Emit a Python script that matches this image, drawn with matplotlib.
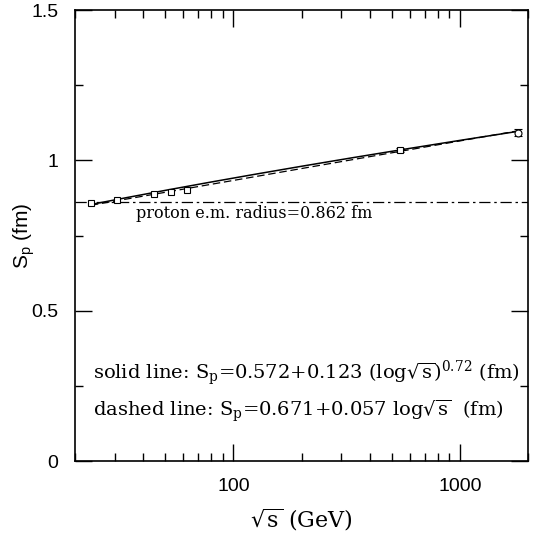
import numpy as np
import matplotlib
matplotlib.use('Agg')
import matplotlib.pyplot as plt
from matplotlib.ticker import FixedLocator, NullFormatter

# data
isr_energy = [23.5, 30.6, 44.7, 52.8, 62.5]
isr_sp = [0.857, 0.868, 0.887, 0.896, 0.902]
coll_energy = [546.0, 1800.0]
coll_sp = [1.034, 1.092]
coll_err = [0.006, 0.011]

# fit coefficients quoted in the figure
solid_a, solid_b, solid_pow = 0.572, 0.123, 0.72
dash_a, dash_b = 0.671, 0.057
proton_radius = 0.862

plt.rcParams['mathtext.fontset'] = 'dejavuserif'

fig = plt.figure(figsize=(5.36, 5.42), dpi=100)
ax = fig.add_axes([0.140, 0.149, 0.845, 0.8325])

rs = np.logspace(np.log10(isr_energy[0]), np.log10(coll_energy[-1]), 200)
ax.plot(rs, solid_a + solid_b * np.log(rs) ** solid_pow, color='black', lw=1.1)
ax.plot(rs, dash_a + dash_b * np.log(rs), color='black', lw=0.9, ls=(0, (6, 3)))
ax.axhline(proton_radius, color='black', lw=0.9, ls=(0, (9, 3, 2, 3)))

ax.plot(isr_energy, isr_sp, ls='none', marker='s', ms=4, mfc='white', mec='black', mew=0.8)
ax.errorbar(coll_energy[:1], coll_sp[:1], yerr=coll_err[:1], fmt='s', ms=4, mfc='white',
            mec='black', mew=0.8, ecolor='black', elinewidth=0.8, capsize=3)
ax.errorbar(coll_energy[1:], coll_sp[1:], yerr=coll_err[1:], fmt='o', ms=5, mfc='white',
            mec='black', mew=0.8, ecolor='black', elinewidth=0.8, capsize=3)

ax.set_xscale('log')
ax.set_xlim(20, 2000)
ax.set_ylim(0, 1.5)
ax.set_xticks([100, 1000])
ax.set_xticklabels(['100', '1000'])
minors = [v * d for d in (10, 100, 1000) for v in range(2, 10) if 20 <= v * d <= 2000]
ax.xaxis.set_minor_locator(FixedLocator(minors))
ax.xaxis.set_minor_formatter(NullFormatter())
ax.set_yticks([0, 0.5, 1, 1.5])
ax.set_yticklabels(['0', '0.5', '1', '1.5'])
ax.yaxis.set_minor_locator(FixedLocator([0.25, 0.75, 1.25]))

ax.tick_params(which='both', direction='in', top=True, right=True, width=1.0)
ax.tick_params(which='major', length=12, labelsize=14, pad=12)
ax.tick_params(which='minor', length=6)
for lab in ax.get_xticklabels() + ax.get_yticklabels():
    lab.set_family('Liberation Sans')
for sp in ax.spines.values():
    sp.set_linewidth(1.2)

ax.set_xlabel(r'$\sqrt{\mathregular{s}}$ (GeV)', family='DejaVu Serif', fontsize=16)
ax.xaxis.set_label_coords(0.5, -0.1)
ax.set_ylabel(r'S$_\mathregular{p}$ (fm)', family='Liberation Sans', fontsize=15)
ax.yaxis.set_label_coords(-0.085, 0.5)

tf = dict(family='DejaVu Serif', transform=ax.transAxes, va='center')
ax.text(0.135, 0.55, 'proton e.m. radius=0.862 fm', fontsize=11.5, **tf)
ax.text(0.04, 0.195,
        r'solid line: S$_\mathregular{p}$=0.572+0.123 (log$\sqrt{\mathregular{s}}$)$^{0.72}$ (fm)',
        fontsize=14, **tf)
ax.text(0.04, 0.112,
        r'dashed line: S$_\mathregular{p}$=0.671+0.057 log$\sqrt{\mathregular{s}}$  (fm)',
        fontsize=14, **tf)

fig.savefig('out.png', dpi=100)
